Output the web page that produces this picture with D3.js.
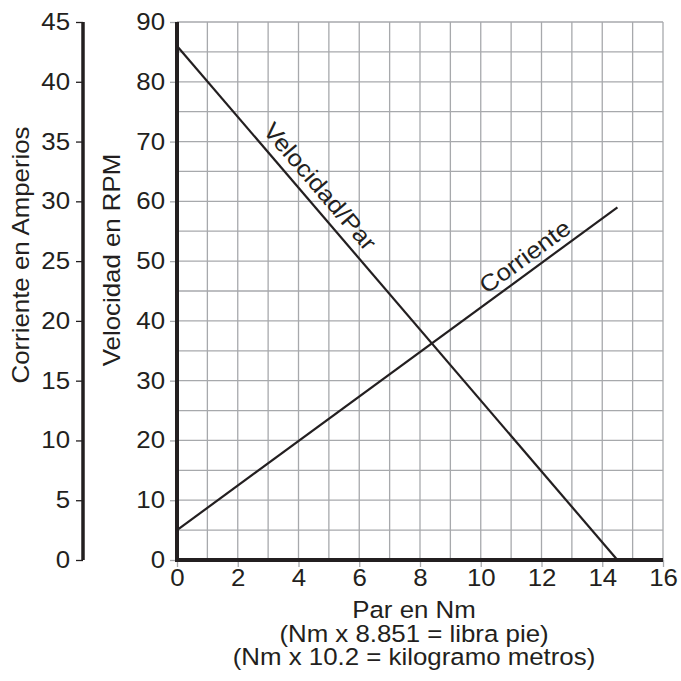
<!DOCTYPE html>
<html>
<head>
<meta charset="utf-8">
<script src="https://cdn.jsdelivr.net/npm/d3@7"></script>
<style>
body { margin: 0; background: #fff; }
text { font-family: "Liberation Sans", Arial, sans-serif; fill: #231f20; }
</style>
</head>
<body>
<svg id="chart" width="681" height="681"></svg>
<script>
// data
const torque = [0, 14.5]
const speed = [86, 0]          // RPM
const current = [2.5, 29.5]    // amps
const xTicks = [0, 2, 4, 6, 8, 10, 12, 14, 16]
const rpmTicks = [0, 10, 20, 30, 40, 50, 60, 70, 80, 90]
const ampTicks = [0, 5, 10, 15, 20, 25, 30, 35, 40, 45]

const svg = d3.select("#chart")
const ink = "#231f20"
const fs = 23.5
const sx = 1.1   // reference type is a bit wide

let x = d3.scaleLinear().domain([0, 16]).range([177, 663])
let y = d3.scaleLinear().domain([0, 90]).range([560, 22])
let yA = d3.scaleLinear().domain([0, 45]).range([560, 22])

// grid
let grid = svg.append("g").attr("stroke", "#a7a9ac").attr("stroke-width", 1.3)
grid.selectAll(".vx").data(d3.range(1, 17))
    .enter().append("line")
    .attr("x1", d => x(d)).attr("x2", d => x(d))
    .attr("y1", y(0)).attr("y2", y(90))
grid.selectAll(".hy").data(d3.range(5, 91, 5))
    .enter().append("line")
    .attr("x1", x(0)).attr("x2", x(16))
    .attr("y1", d => y(d)).attr("y2", d => y(d))

function styleTicks(g) {
    g.selectAll("text")
        .attr("font-size", fs)
        .style("font-family", "Liberation Sans, Arial, sans-serif")
        .attr("fill", ink)
        .attr("transform", "scale(" + sx + ",1)")
}

// x axis
let xa = svg.append("g")
    .attr("transform", "translate(0," + y(0) + ")")
    .call(d3.axisBottom(x).tickValues(xTicks).tickSize(7).tickPadding(2).tickFormat(d3.format("d")))
xa.select(".domain").remove()
xa.selectAll("line").attr("stroke", "#a7a9ac").attr("stroke-width", 1.3)
styleTicks(xa)

// RPM axis
let ya = svg.append("g")
    .attr("transform", "translate(" + x(0) + ",0)")
    .call(d3.axisLeft(y).tickValues(rpmTicks).tickSize(7).tickPadding(3.9))
ya.select(".domain").remove()
ya.selectAll("line").attr("stroke", "#a7a9ac").attr("stroke-width", 1.3)
styleTicks(ya)

// amps axis
let aa = svg.append("g")
    .attr("transform", "translate(83,0)")
    .call(d3.axisLeft(yA).tickValues(ampTicks).tickSize(7).tickPadding(4.8))
aa.select(".domain").attr("stroke", ink).attr("stroke-width", 3.5)
    .attr("d", "M0," + yA(45) + "V" + yA(0))
aa.selectAll("line").attr("stroke", ink).attr("stroke-width", 1.3)
styleTicks(aa)

// heavy frame lines
svg.append("line").attr("x1", x(0)).attr("x2", x(0)).attr("y1", y(0) + 2).attr("y2", y(90))
    .attr("stroke", ink).attr("stroke-width", 4)
svg.append("line").attr("x1", x(0) - 2).attr("x2", x(16)).attr("y1", y(0)).attr("y2", y(0))
    .attr("stroke", ink).attr("stroke-width", 4)

// curves
let speedPts = torque.map((t, i) => [x(t), y(speed[i])])
let curPts = torque.map((t, i) => [x(t), yA(current[i])])
svg.append("path").attr("d", d3.line()(speedPts))
    .attr("fill", "none").attr("stroke", ink).attr("stroke-width", 2.2)
svg.append("path").attr("d", d3.line()(curPts))
    .attr("fill", "none").attr("stroke", ink).attr("stroke-width", 2.2)

// labels along curves
function along(pts, frac, off, label) {
    let px = pts[0][0] + (pts[1][0] - pts[0][0]) * frac
    let py = pts[0][1] + (pts[1][1] - pts[0][1]) * frac
    let deg = Math.atan2(pts[1][1] - pts[0][1], pts[1][0] - pts[0][0]) * 180 / Math.PI
    svg.append("text")
        .attr("transform", "translate(" + px + "," + py + ") rotate(" + deg + ") translate(0," + (-off) + ") scale(" + sx + ",1)")
        .attr("text-anchor", "middle")
        .attr("font-size", fs)
        .text(label)
}
along(speedPts, 0.295, 9, "Velocidad/Par")
along(curPts, 0.81, 7, "Corriente")

// axis titles
svg.append("text").attr("transform", "translate(29,255) rotate(-90) scale(" + sx + ",1)")
    .attr("text-anchor", "middle").attr("font-size", fs).text("Corriente en Amperios")
svg.append("text").attr("transform", "translate(120,260) rotate(-90) scale(" + sx + ",1)")
    .attr("text-anchor", "middle").attr("font-size", fs).text("Velocidad en RPM")

let titles = ["Par en Nm", "(Nm x 8.851 = libra pie)", "(Nm x 10.2 = kilogramo metros)"]
svg.selectAll(".xt").data(titles).enter().append("text")
    .attr("transform", (d, i) => "translate(414," + (618 + i * 23.5) + ") scale(" + sx + ",1)")
    .attr("text-anchor", "middle").attr("font-size", fs)
    .text(d => d)
</script>
</body>
</html>
